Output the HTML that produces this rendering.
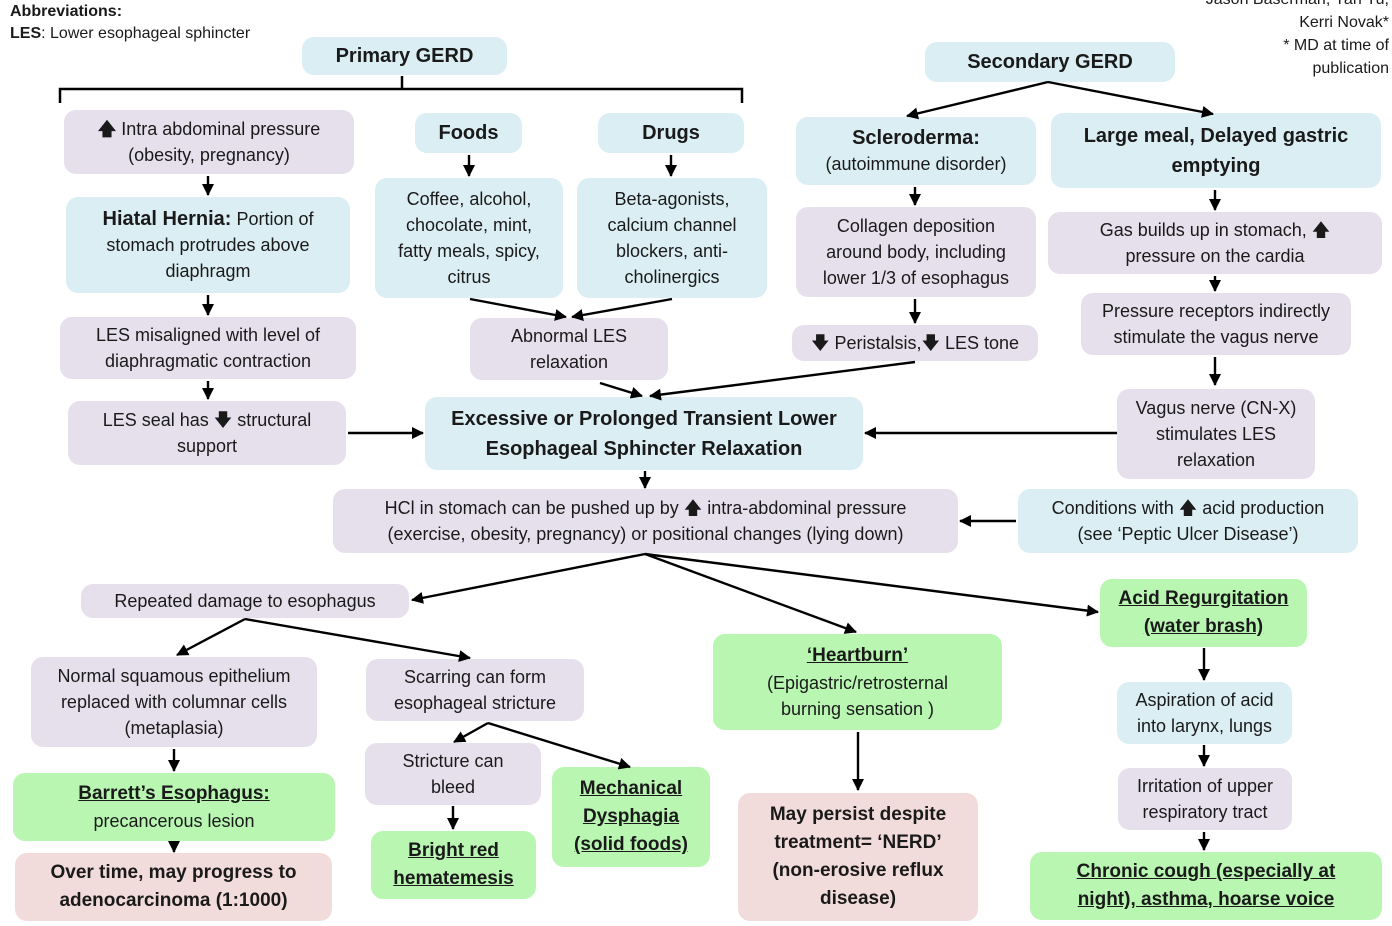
<!DOCTYPE html>
<html><head><meta charset="utf-8"><style>
body{margin:0;width:1392px;height:926px;background:#fff;position:relative;overflow:hidden;font-family:"Liberation Sans",sans-serif;color:#1a1a1a}
.b{position:absolute;box-sizing:border-box;border-radius:12px;display:flex;align-items:center;justify-content:center;text-align:center;font-size:18px;line-height:26px;padding:0 4px;white-space:nowrap}
.bl{background:#dbeef4}.lv{background:#e6e0ec}.gr{background:#b9f6b2}.pk{background:#f2dcdb}
.t{font-weight:bold;font-size:20px}
.u{font-weight:bold;font-size:19px;text-decoration:underline;line-height:28px}
.p{position:absolute;font-size:16px;line-height:23px}
svg{position:absolute;left:0;top:0}
</style></head><body>
<div class="p" style="left:10px;top:0;font-weight:bold">Abbreviations:</div>
<div class="p" style="left:10px;top:22px"><b>LES</b>: Lower esophageal sphincter</div>
<div class="p" style="right:3px;top:-12px;text-align:right">Jason Baserman, Yan Yu,<br>Kerri Novak*<br>* MD at time of<br>publication</div>

<div class="b bl t" style="left:302px;top:37px;width:205px;height:38px">Primary GERD</div>
<div class="b lv" style="left:64px;top:110px;width:290px;height:64px"><span><b>🡅</b> Intra abdominal pressure<br>(obesity, pregnancy)</span></div>
<div class="b bl" style="left:66px;top:197px;width:284px;height:96px"><span><b style="font-size:20px">Hiatal Hernia:</b> Portion of<br>stomach protrudes above<br>diaphragm</span></div>
<div class="b lv" style="left:60px;top:317px;width:296px;height:62px"><span>LES misaligned with level of<br>diaphragmatic contraction</span></div>
<div class="b lv" style="left:68px;top:401px;width:278px;height:64px"><span>LES seal has 🡇 structural<br>support</span></div>
<div class="b bl t" style="left:415px;top:113px;width:107px;height:40px">Foods</div>
<div class="b bl t" style="left:598px;top:113px;width:146px;height:40px">Drugs</div>
<div class="b bl" style="left:375px;top:178px;width:188px;height:120px"><span>Coffee, alcohol,<br>chocolate, mint,<br>fatty meals, spicy,<br>citrus</span></div>
<div class="b bl" style="left:577px;top:178px;width:190px;height:120px"><span>Beta-agonists,<br>calcium channel<br>blockers, anti-<br>cholinergics</span></div>
<div class="b lv" style="left:470px;top:318px;width:198px;height:62px"><span>Abnormal LES<br>relaxation</span></div>
<div class="b bl t" style="left:425px;top:397px;width:438px;height:73px;line-height:30px"><span>Excessive or Prolonged Transient Lower<br>Esophageal Sphincter Relaxation</span></div>
<div class="b lv" style="left:333px;top:489px;width:625px;height:64px"><span>HCl in stomach can be pushed up by 🡅 intra-abdominal pressure<br>(exercise, obesity, pregnancy) or positional changes (lying down)</span></div>
<div class="b bl" style="left:1018px;top:489px;width:340px;height:64px"><span>Conditions with 🡅 acid production<br>(see ‘Peptic Ulcer Disease’)</span></div>

<div class="b bl t" style="left:925px;top:42px;width:250px;height:40px">Secondary GERD</div>
<div class="b bl" style="left:796px;top:117px;width:240px;height:68px"><span><b style="font-size:20px">Scleroderma:</b><br>(autoimmune disorder)</span></div>
<div class="b bl t" style="left:1051px;top:113px;width:330px;height:75px;line-height:30px"><span>Large meal, Delayed gastric<br>emptying</span></div>
<div class="b lv" style="left:796px;top:207px;width:240px;height:90px"><span>Collagen deposition<br>around body, including<br>lower 1/3 of esophagus</span></div>
<div class="b lv" style="left:792px;top:325px;width:246px;height:36px">🡇 Peristalsis,🡇 LES tone</div>
<div class="b lv" style="left:1048px;top:212px;width:334px;height:62px"><span>Gas builds up in stomach, 🡅<br>pressure on the cardia</span></div>
<div class="b lv" style="left:1081px;top:293px;width:270px;height:62px"><span>Pressure receptors indirectly<br>stimulate the vagus nerve</span></div>
<div class="b lv" style="left:1117px;top:389px;width:198px;height:90px"><span>Vagus nerve (CN-X)<br>stimulates LES<br>relaxation</span></div>

<div class="b lv" style="left:81px;top:584px;width:328px;height:34px">Repeated damage to esophagus</div>
<div class="b lv" style="left:31px;top:657px;width:286px;height:90px"><span>Normal squamous epithelium<br>replaced with columnar cells<br>(metaplasia)</span></div>
<div class="b lv" style="left:366px;top:659px;width:218px;height:62px"><span>Scarring can form<br>esophageal stricture</span></div>
<div class="b gr" style="left:713px;top:634px;width:289px;height:96px"><span><span class="u">‘Heartburn’</span><br>(Epigastric/retrosternal<br>burning sensation )</span></div>
<div class="b gr u" style="left:1100px;top:579px;width:207px;height:68px"><span>Acid Regurgitation<br>(water brash)</span></div>
<div class="b bl" style="left:1117px;top:682px;width:175px;height:62px"><span>Aspiration of acid<br>into larynx, lungs</span></div>
<div class="b lv" style="left:1118px;top:768px;width:174px;height:62px"><span>Irritation of upper<br>respiratory tract</span></div>
<div class="b gr u" style="left:1030px;top:852px;width:352px;height:68px"><span>Chronic cough (especially at<br>night), asthma, hoarse voice</span></div>
<div class="b pk" style="left:738px;top:793px;width:240px;height:128px;font-weight:bold;font-size:19px;line-height:28px"><span>May persist despite<br>treatment= ‘NERD’<br>(non-erosive reflux<br>disease)</span></div>
<div class="b gr" style="left:13px;top:773px;width:322px;height:68px"><span><span class="u">Barrett’s Esophagus:</span><br>precancerous lesion</span></div>
<div class="b pk" style="left:15px;top:853px;width:317px;height:68px;font-weight:bold;font-size:19px;line-height:28px"><span>Over time, may progress to<br>adenocarcinoma (1:1000)</span></div>
<div class="b lv" style="left:365px;top:743px;width:176px;height:62px"><span>Stricture can<br>bleed</span></div>
<div class="b gr u" style="left:371px;top:831px;width:165px;height:68px"><span>Bright red<br>hematemesis</span></div>
<div class="b gr u" style="left:552px;top:767px;width:158px;height:100px"><span>Mechanical<br>Dysphagia<br>(solid foods)</span></div>

<svg width="1392" height="926">
<defs><marker id="a" markerWidth="12" markerHeight="12" refX="11" refY="6" orient="auto" markerUnits="userSpaceOnUse"><path d="M0,0L12,6L0,12z" fill="#000"/></marker></defs>
<g stroke="#000" stroke-width="2.5" fill="none">
<path d="M60,103V89H742V103M402,89V76"/>
</g>
<g stroke="#000" stroke-width="2.4" fill="none" marker-end="url(#a)">
<path d="M208,176V195"/><path d="M208,295V315"/><path d="M208,381V399"/>
<path d="M469,155V176"/><path d="M671,155V176"/>
<path d="M470,299L566,317"/><path d="M672,299L572,317"/>
<path d="M600,383L642,396"/><path d="M915,362L650,396"/>
<path d="M348,433H423"/><path d="M1117,433H865"/>
<path d="M645,471V488"/><path d="M1016,521H960"/>
<path d="M1048,82L907,116"/><path d="M1048,82L1213,114"/>
<path d="M915,187V205"/><path d="M915,299V323"/>
<path d="M1215,190V210"/><path d="M1215,276V291"/><path d="M1215,357V385"/>
<path d="M645,554L412,600"/><path d="M645,554L856,632"/><path d="M645,554L1098,612"/>
<path d="M245,619L177,655"/><path d="M245,619L470,658"/>
<path d="M174,749V771"/><path d="M174,842V852"/>
<path d="M488,723L454,742"/><path d="M488,723L630,767"/>
<path d="M453,806V829"/><path d="M858,732V790"/>
<path d="M1204,648V680"/><path d="M1204,745V766"/><path d="M1204,832V850"/>
</g></svg>
</body></html>
